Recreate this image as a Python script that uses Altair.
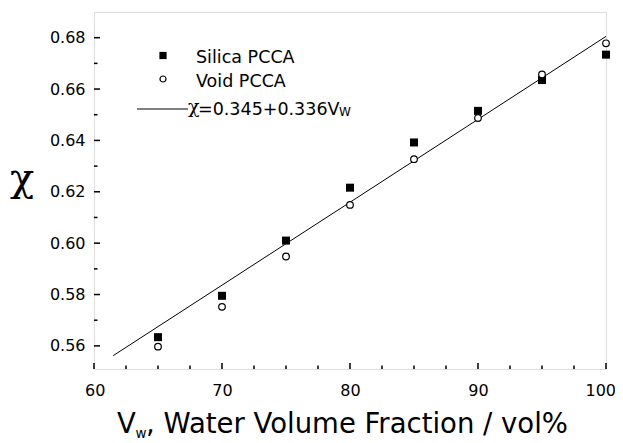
import altair as alt
import pandas as pd

# ---- data ----
vw = [65, 70, 75, 80, 85, 90, 95, 100]
silica = [0.5634, 0.5795, 0.6010, 0.6216, 0.6392, 0.6515, 0.6635, 0.6734]
void = [0.5597, 0.5752, 0.5948, 0.6149, 0.6327, 0.6487, 0.6657, 0.6778]
fit_x = [61.5, 100]
fit_y = [0.5562, 0.6805]

x_major = [60, 70, 80, 90, 100]
x_minor = [62.5, 65, 67.5, 72.5, 75, 77.5, 82.5, 85, 87.5, 92.5, 95, 97.5]
y_major = [0.56, 0.58, 0.60, 0.62, 0.64, 0.66, 0.68]
y_minor = [0.57, 0.59, 0.61, 0.63, 0.65, 0.67]

W, H = 512, 357
SANS = "DejaVu Sans"
SERIF = "DejaVu Serif"

xs = alt.Scale(domain=[60, 100], nice=False, zero=False)
ys = alt.Scale(domain=[0.551, 0.690], nice=False, zero=False)

xax = alt.Axis(values=x_major, ticks=False, domain=False, grid=False,
               labelFont=SANS, labelFontSize=16, labelPadding=13,
               labelFlush=True, labelFlushOffset=9.5,
               labelColor="black", format="d")
yax = alt.Axis(values=y_major, ticks=False, domain=False, grid=False,
               labelFont=SANS, labelFontSize=16, labelPadding=9,
               labelFlush=False, labelColor="black", format=".2f")

pts = pd.DataFrame({"vw": vw, "silica": silica, "void": void})
fit = pd.DataFrame({"vw": fit_x, "chi": fit_y})

fit_line = alt.Chart(fit).mark_line(color="black", strokeWidth=1).encode(
    x=alt.X("vw:Q", scale=xs, axis=xax, title=""),
    y=alt.Y("chi:Q", scale=ys, axis=yax, title=""),
)

sil = alt.Chart(pts).mark_square(color="black", size=64, opacity=1).encode(
    x=alt.X("vw:Q", scale=xs), y=alt.Y("silica:Q", scale=ys)
)
vd = alt.Chart(pts).mark_point(shape="circle", filled=True, fill="white",
                               stroke="black", strokeWidth=1.2, size=44,
                               opacity=1).encode(
    x=alt.X("vw:Q", scale=xs), y=alt.Y("void:Q", scale=ys)
)

# inward ticks
xmaj = alt.Chart(pd.DataFrame({"t": x_major})).mark_rule(color="black", strokeWidth=1.5).encode(
    x=alt.X("t:Q", scale=xs), y=alt.value(H), y2=alt.value(H - 6))
xmin = alt.Chart(pd.DataFrame({"t": x_minor})).mark_rule(color="black", strokeWidth=1.5).encode(
    x=alt.X("t:Q", scale=xs), y=alt.value(H), y2=alt.value(H - 3.5))
ymaj = alt.Chart(pd.DataFrame({"t": y_major})).mark_rule(color="black", strokeWidth=1.5).encode(
    y=alt.Y("t:Q", scale=ys), x=alt.value(0), x2=alt.value(6))
ymin = alt.Chart(pd.DataFrame({"t": y_minor})).mark_rule(color="black", strokeWidth=1.5).encode(
    y=alt.Y("t:Q", scale=ys), x=alt.value(0), x2=alt.value(3.5))

one = alt.Data(values=[{"a": 1}])


def txt(s, x, y, size, font=SANS, align="left", baseline="alphabetic"):
    return alt.Chart(one).mark_text(text=s, font=font, fontSize=size, align=align,
                                    baseline=baseline, color="black").encode(
        x=alt.value(x), y=alt.value(y))


# legend (manual)
leg_sq = alt.Chart(one).mark_square(color="black", size=52, opacity=1).encode(
    x=alt.value(69), y=alt.value(43.5))
leg_ci = alt.Chart(one).mark_point(shape="circle", filled=True, fill="white", stroke="black",
                                   strokeWidth=1.2, size=36, opacity=1).encode(
    x=alt.value(69), y=alt.value(67))
leg_ln = alt.Chart(one).mark_rule(color="black", strokeWidth=1).encode(
    x=alt.value(43), x2=alt.value(94), y=alt.value(97))

texts = [
    txt("Silica PCCA", 102, 50.5, 17.5),
    txt("Void PCCA", 102, 75, 17.5),
    txt("χ", 94, 101, 19, font=SERIF),
    txt("=0.345+0.336V", 104, 103, 17.5),
    txt("W", 245, 104, 12),
    # x title
    txt("V", 23, 421, 27.5),
    txt("w", 41.5, 426, 13.5),
    txt(", Water Volume Fraction / vol%", 52, 421, 27.5),
    # y title
    txt("χ", -72, 179, 40, font=SERIF, align="center"),
]

chart = alt.layer(
    fit_line, xmaj, xmin, ymaj, ymin, sil, vd, leg_sq, leg_ci, leg_ln, *texts
).properties(
    width=W, height=H,
    autosize=alt.AutoSizeParams(type="none"),
    padding={"left": 86, "top": 4, "right": 9, "bottom": 76},
).configure_view(stroke="black", strokeWidth=2.5).configure(background="white")

chart.save("out.html", embed_options={"renderer": "svg", "actions": False})
